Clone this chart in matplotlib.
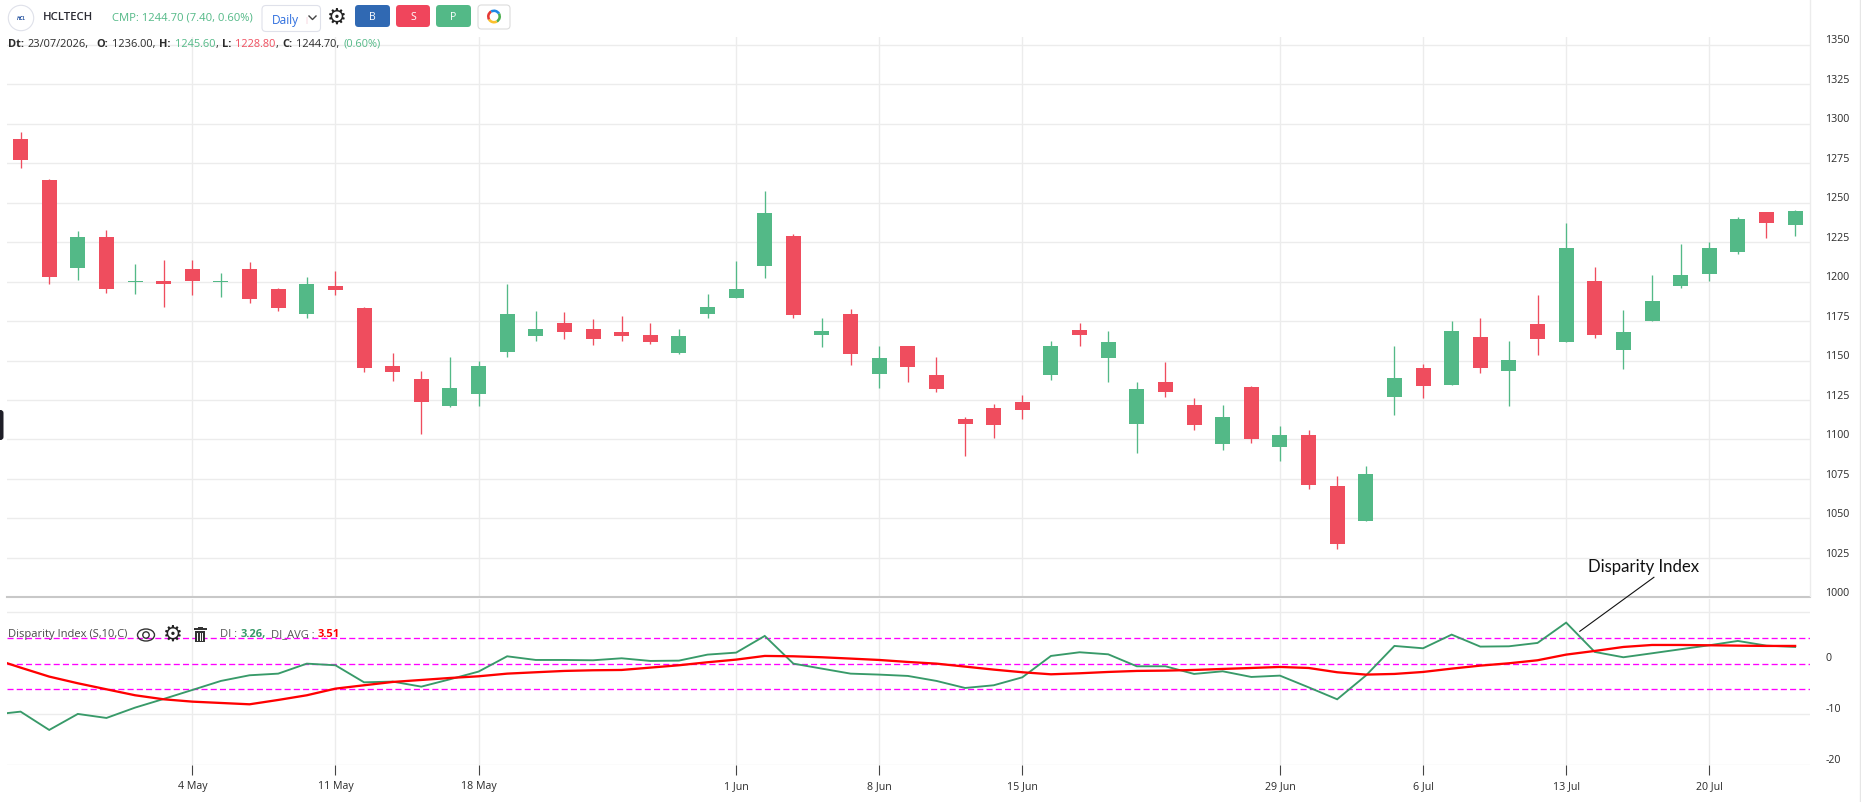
import numpy as np
import matplotlib
matplotlib.use("Agg")
import matplotlib.pyplot as plt
from matplotlib.patches import FancyBboxPatch, Circle, Wedge, Ellipse, Rectangle
from matplotlib.lines import Line2D
from matplotlib.transforms import ScaledTranslation

plt.rcParams['font.family'] = ['Open Sans', 'DejaVu Sans']

# ---------- data ----------
opens = [1290.1,1264.1,1208.4,1228.1,1199.5,1200.2,1207.8,1199.5,1207.8,1195.1,1179.3,1197.0,1183.1,1146.4,1138.6,1121.3,
         1128.7,1155.3,1165.4,1173.6,1169.8,1168.2,1166.4,1155.0,1179.6,1189.8,1210.0,1229.0,1166.4,1179.6,1141.7,1159.4,
         1141.0,1113.2,1120.2,1124.0,1141.0,1169.5,1151.8,1110.0,1136.6,1122.0,1097.4,1133.4,1095.5,1103.0,1070.8,1048.6,
         1127.1,1145.5,1134.7,1165.1,1143.6,1173.3,1161.6,1200.2,1156.5,1174.9,1197.0,1204.6,1218.6,1243.9,1236.0]
highs = [1294.5,1264.8,1231.9,1232.5,1211.0,1213.5,1213.5,1205.3,1212.2,1195.8,1202.7,1206.5,1183.8,1154.6,1143.3,1152.0,
         1149.6,1198.3,1181.2,1180.6,1176.2,1178.4,1174.0,1170.1,1192.3,1213.2,1257.5,1230.3,1177.1,1182.8,1159.4,1159.4,
         1152.4,1114.5,1122.7,1128.4,1162.6,1174.0,1168.9,1136.6,1149.3,1126.5,1122.0,1134.0,1108.8,1106.2,1077.1,1083.4,
         1159.4,1148.0,1175.2,1177.1,1162.6,1191.7,1236.9,1209.1,1181.9,1204.0,1223.6,1224.9,1240.7,1243.9,1245.6]
lows = [1271.7,1198.3,1200.8,1192.6,1192.0,1183.8,1191.4,1190.0,1186.3,1181.2,1176.8,1191.4,1142.6,1136.9,1103.2,1120.5,
        1121.0,1152.1,1162.2,1163.5,1159.7,1162.6,1160.7,1154.3,1177.1,1189.8,1202.4,1177.1,1158.8,1147.4,1132.8,1136.6,
        1130.3,1089.8,1101.2,1113.2,1137.9,1159.4,1136.6,1091.7,1127.1,1106.2,1093.6,1098.0,1086.6,1068.9,1030.5,1048.6,
        1115.7,1126.5,1134.7,1142.3,1121.4,1153.7,1161.6,1164.1,1144.5,1174.9,1195.8,1200.2,1217.3,1227.4,1228.8]
closes = [1276.8,1202.7,1228.1,1195.1,1200.3,1198.3,1200.2,1200.3,1188.8,1183.1,1198.3,1194.5,1145.1,1142.6,1123.5,1132.5,
          1146.4,1179.3,1169.8,1167.9,1163.5,1165.7,1162.0,1165.7,1184.1,1195.5,1243.6,1179.0,1168.9,1154.3,1151.8,1146.1,
          1132.2,1110.0,1109.4,1118.9,1159.4,1166.4,1161.9,1132.2,1130.3,1109.4,1114.5,1100.5,1103.0,1071.4,1034.0,1078.4,
          1139.1,1134.0,1168.9,1145.5,1150.5,1163.8,1221.1,1166.0,1167.9,1187.6,1204.0,1221.1,1239.5,1236.9,1244.7]

# first value of each indicator belongs to the session just left of the visible window
di_values = [-10.1,-9.48,-13.07,-9.93,-10.72,-8.69,-6.99,-5.23,-3.46,-2.35,-2.03,-0.07,-0.39,-3.73,-3.59,-4.58,-3.14,-1.63,
             1.37,0.65,0.65,0.59,0.98,0.46,0.52,1.70,2.09,5.36,-0.07,-1.05,-2.03,-2.22,-2.48,-3.46,-4.84,-4.31,-2.75,
             1.44,2.16,1.76,-0.59,-0.59,-2.09,-1.57,-2.68,-2.42,-4.71,-7.06,-2.42,3.40,2.94,5.62,3.27,3.33,3.99,7.97,
             2.22,1.18,1.96,2.75,3.53,4.38,3.46,3.20]
di_avg = [0.98,-0.85,-2.61,-3.92,-5.10,-6.27,-7.06,-7.52,-7.78,-8.04,-7.19,-6.27,-4.97,-4.31,-3.66,-3.27,-2.88,-2.55,
          -2.03,-1.76,-1.50,-1.37,-1.31,-0.85,-0.39,0.20,0.72,1.44,1.37,1.18,0.92,0.65,0.26,-0.07,-0.65,-1.24,-1.76,
          -2.16,-1.96,-1.70,-1.50,-1.44,-1.31,-1.11,-0.92,-0.72,-0.92,-1.76,-2.22,-2.09,-1.70,-1.05,-0.46,0.00,0.59,
          1.70,2.42,3.20,3.59,3.59,3.53,3.46,3.40,3.40]
band_levels = [4.9, -0.2, -5.1]

date_tick_pos = [6, 11, 16, 25, 30, 35, 44, 49, 54, 59]
date_tick_labels = ['4 May', '11 May', '18 May', '1 Jun', '8 Jun', '15 Jun', '29 Jun', '6 Jul', '13 Jul', '20 Jul']
price_ticks = [1000, 1025, 1050, 1075, 1100, 1125, 1150, 1175, 1200, 1225, 1250, 1275, 1300, 1325, 1350]
di_ticks = [10, 0, -10, -20]

# ---------- style ----------
W, H = 1861, 803
GREEN, RED = '#53b987', '#ef4d5e'
GRID = '#ececec'
TXT = '#2a2a2a'
L, R = 7, 1810
TICK_FS = 7.7

def axes_px(x0, y0, x1, y1):
    return fig.add_axes([x0 / W, 1 - y1 / H, (x1 - x0) / W, (y1 - y0) / H])

fig = plt.figure(figsize=(W / 100, H / 100), dpi=100, facecolor='white')
ax = axes_px(L, 37.7, R, 598.4)
sub = axes_px(L, 599.5, R, 766.3)

x = np.arange(len(opens))
o, h, l, c = map(np.array, (opens, highs, lows, closes))
cols = [GREEN if ci >= oi else RED for oi, ci in zip(o, c)]

for a in (ax, sub):
    a.set_xlim(-0.475, 62.52)
    a.set_axisbelow(True)
    a.grid(True, color=GRID, lw=0.95)
    a.yaxis.tick_right()
    a.set_xticks(date_tick_pos)
    for s in ('left', 'right', 'top', 'bottom'):
        a.spines[s].set_visible(False)

# price pane
ax.set_ylim(1000.8, 1355.05)
ax.set_yticks(price_ticks)
ax.set_xticklabels([])
ax.tick_params(axis='both', length=0)
ax.tick_params(axis='y', pad=11.2, labelsize=TICK_FS, labelcolor=TXT)
ax.vlines(x, l, h, colors=cols, lw=0.95, zorder=3)
ax.bar(x, np.abs(c - o), bottom=np.minimum(o, c), width=0.524, color=cols, lw=0, zorder=4)
ax.spines['bottom'].set_visible(True)
ax.spines['bottom'].set_color('#c8c8c8')
ax.spines['bottom'].set_linewidth(1.5)

# indicator pane
sub.set_ylim(-20, 12.7)
sub.set_yticks(di_ticks)
sub.set_yticklabels(['', '0', '-10', '-20'])
sub.set_xticklabels(date_tick_labels)
sub.tick_params(axis='y', length=0, pad=11.2, labelsize=TICK_FS, labelcolor=TXT)
sub.tick_params(axis='x', length=7, width=0.8, color='#444444', pad=3.6, labelsize=TICK_FS, labelcolor=TXT)
for t, v in zip(sub.yaxis.get_major_ticks(), di_ticks):
    if v == 0:
        t.gridline.set_visible(False)
for lev in band_levels:
    sub.axhline(lev, color='#ff00ff', lw=0.95, dashes=(4.6, 2.4), zorder=2)
xi = np.arange(-1, len(opens))
sub.plot(xi, di_values, color='#389a69', lw=1.35, zorder=3, solid_joinstyle='miter')
sub.plot(xi, di_avg, color='#ff0000', lw=1.65, zorder=4)

# value labels sit above their grid lines
for a, dy in ((ax, 6.2), (sub, 6.8)):
    off = ScaledTranslation(0, dy / 100, fig.dpi_scale_trans)
    for t in a.yaxis.get_major_ticks():
        t.label2.set_transform(t.label2.get_transform() + off)

# ---------- overlay in pixel coordinates ----------
ov = fig.add_axes([0, 0, 1, 1], zorder=10)
ov.set_xlim(0, W)
ov.set_ylim(H, 0)
ov.axis('off')
ov.patch.set_alpha(0)

ov.add_line(Line2D([R, R], [0, 597], color='#ececec', lw=1))
ov.add_line(Line2D([1860, 1860], [0, H], color='#e6e6e6', lw=1))

def T(px, py, s, color=TXT, size=7.7, weight='normal', ha='left', **kw):
    return ov.text(px, py, s, color=color, fontsize=size, fontweight=weight, ha=ha, va='center', **kw)

def box(x0, y0, x1, y1, fc, ec='none', r=3, lw=0.8):
    ov.add_patch(FancyBboxPatch((x0 + r, y0 + r), x1 - x0 - 2 * r, y1 - y0 - 2 * r,
                                boxstyle=f'round,pad={r},rounding_size={r}', fc=fc, ec=ec, lw=lw))

# logo
ov.add_patch(Circle((21, 19), 12.7, fc='white', ec='#dfe1ea', lw=0.8))
T(21, 19, 'HCL', color='#1f4e9c', size=3.6, weight='bold', ha='center', style='italic')
T(42.5, 17.5, 'HCLTECH', color='#2b2b33', size=8.2, weight='semibold')
T(112.5, 17.5, 'CMP: 1244.70 (7.40, 0.60%)', color=GREEN, size=8.1)

# timeframe selector
box(262, 6.5, 320.5, 32.5, 'white', '#dfe1ea', r=4)
T(272, 20.5, 'Daily', color='#2f6fde', size=8.6)
T(304, 21, '\u2009|', color='#f3b6c6', size=5)
ov.add_line(Line2D([309, 312.5, 316], [17, 20.5, 17], color='#444444', lw=1))

# gear
T(337, 18, '\u2699', color='#222222', size=16, ha='center', family=['DejaVu Sans'])

# action buttons
for x0, x1, col, s in ((355, 390, '#3069b3', 'B'), (396, 430, '#f0455c', 'S'), (436, 471, GREEN, 'P')):
    box(x0, 6, x1, 28, col, r=3.5)
    T((x0 + x1) / 2, 17.5, s, color='white', size=7.6, ha='center')
box(478, 6, 510, 30, 'white', '#dcdcdc', r=3.5)
for a0, a1, col in ((-30, 60, '#4caf50'), (60, 150, '#fbc02d'), (150, 240, '#e53935'), (240, 330, '#1e88e5')):
    ov.add_patch(Wedge((494, 17.5), 7, a0, a1, width=2.6, fc=col, ec='none'))

# OHLC line
segments = [(8, 'Dt:', TXT, 'bold'), (28, '23/07/2026,', TXT, 'normal'),
            (96, 'O:', TXT, 'bold'), (112, '1236.00,', TXT, 'normal'),
            (159, 'H:', TXT, 'bold'), (175, '1245.60', GREEN, 'normal'), (216, ',', TXT, 'normal'),
            (222, 'L:', TXT, 'bold'), (235, '1228.80', RED, 'normal'), (276, ',', TXT, 'normal'),
            (282, 'C:', TXT, 'bold'), (296, '1244.70,', TXT, 'normal'), (343, '(0.60%)', GREEN, 'normal')]
for px, s, col, w in segments:
    T(px, 44.5, s, color=col, weight=w, size=7.9)

# indicator legend
T(8, 635, 'Disparity Index (S,10,C)', color='#4a4a4a', size=8.05)
ov.add_patch(Ellipse((146, 636), 17, 12, fc='none', ec='#333333', lw=1))
ov.add_patch(Circle((146, 636), 3.2, fc='none', ec='#333333', lw=1))
T(173, 635, '\u2699', color='#222222', size=16, ha='center', family=['DejaVu Sans'])
ov.add_patch(Rectangle((195, 632), 10, 10.5, fc='#333333', ec='none'))
ov.add_patch(Rectangle((193.5, 629), 13, 1.6, fc='#333333', ec='none'))
ov.add_patch(Rectangle((197.5, 627.5), 5, 1.5, fc='#333333', ec='none'))
for bx in (197.4, 199.5, 201.6):
    ov.add_line(Line2D([bx, bx], [633.5, 641], color='white', lw=0.7))
T(220, 635, 'DI :', color='#555555', size=8)
T(240.5, 635, '3.26,', color='#389a69', size=8, weight='bold')
T(271, 635, 'DI_AVG :', color='#555555', size=8)
T(318, 635, '3.51', color='#ff0000', size=8, weight='bold')

# side tab
box(-6, 411, 3.5, 441, '#1f1f28', r=3)

# hand-drawn callout
T(1588.5, 566.7, 'Disparity Index', color='#111111', size=12.1, family=['Lato', 'DejaVu Sans'])
ov.add_line(Line2D([1653.9, 1579.8], [578.3, 632.3], color='#111111', lw=0.8))

fig.savefig('out.png', dpi=100, facecolor='white')
